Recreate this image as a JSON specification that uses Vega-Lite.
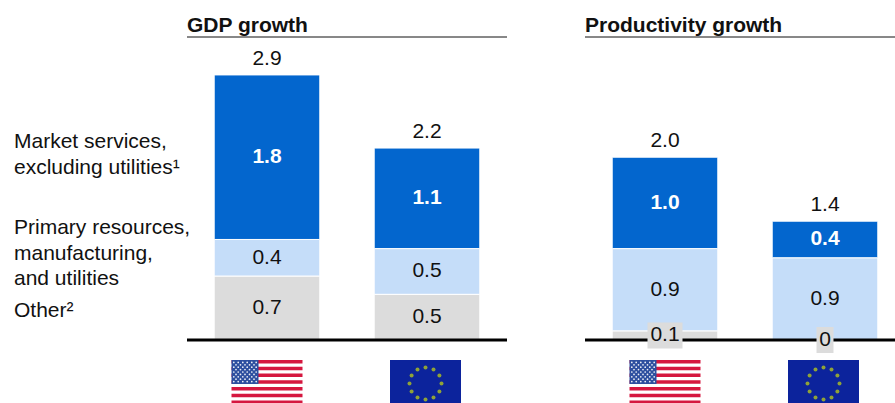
{
  "$schema": "https://vega.github.io/schema/vega-lite/v6.json",
  "padding": {"left": 14, "top": 14, "right": 0, "bottom": 0},
  "bounds": "flush",
  "spacing": 78,
  "config": {
    "view": {"stroke": null},
    "text": {"font": "Liberation Sans", "fontSize": 21, "color": "#111111"},
    "title": {"font": "Liberation Sans", "fontSize": 21, "fontWeight": "bold", "color": "#111111", "anchor": "start", "frame": "group", "offset": 1}
  },
  "datasets": {
    "gdp": [
      {"country": "United States", "series": "Other", "stackRank": 1, "value": 0.7, "total": 2.9},
      {"country": "United States", "series": "Primary", "stackRank": 2, "value": 0.4, "total": 2.9},
      {"country": "United States", "series": "Market", "stackRank": 3, "value": 1.8, "total": 2.9},
      {"country": "European Union", "series": "Other", "stackRank": 1, "value": 0.5, "total": 2.2},
      {"country": "European Union", "series": "Primary", "stackRank": 2, "value": 0.5, "total": 2.2},
      {"country": "European Union", "series": "Market", "stackRank": 3, "value": 1.1, "total": 2.2}
    ],
    "productivity": [
      {"country": "United States", "series": "Other", "stackRank": 1, "value": 0.1, "total": 2.0},
      {"country": "United States", "series": "Primary", "stackRank": 2, "value": 0.9, "total": 2.0},
      {"country": "United States", "series": "Market", "stackRank": 3, "value": 1.0, "total": 2.0},
      {"country": "European Union", "series": "Other", "stackRank": 1, "value": 0, "total": 1.4},
      {"country": "European Union", "series": "Primary", "stackRank": 2, "value": 0.9, "total": 1.4},
      {"country": "European Union", "series": "Market", "stackRank": 3, "value": 0.4, "total": 1.4}
    ],
    "usStripes": [
      {"top": 0, "bottom": 3.4}, {"top": 6.8, "bottom": 10.2}, {"top": 13.5, "bottom": 16.9},
      {"top": 20.3, "bottom": 23.7}, {"top": 27.1, "bottom": 30.5}, {"top": 33.8, "bottom": 37.2},
      {"top": 40.6, "bottom": 44}
    ],
    "usCanton": [{"top": 0, "bottom": 24}],
    "euField": [{"top": 0, "bottom": 44}],
    "usStars": [
      {"fx": -33.2, "fy": 2.4}, {"fx": -28.8, "fy": 2.4}, {"fx": -24.2, "fy": 2.4}, {"fx": -19.8, "fy": 2.4}, {"fx": -15.2, "fy": 2.4}, {"fx": -10.8, "fy": 2.4},
      {"fx": -31, "fy": 4.8}, {"fx": -26.5, "fy": 4.8}, {"fx": -22, "fy": 4.8}, {"fx": -17.5, "fy": 4.8}, {"fx": -13, "fy": 4.8},
      {"fx": -33.2, "fy": 7.2}, {"fx": -28.8, "fy": 7.2}, {"fx": -24.2, "fy": 7.2}, {"fx": -19.8, "fy": 7.2}, {"fx": -15.2, "fy": 7.2}, {"fx": -10.8, "fy": 7.2},
      {"fx": -31, "fy": 9.6}, {"fx": -26.5, "fy": 9.6}, {"fx": -22, "fy": 9.6}, {"fx": -17.5, "fy": 9.6}, {"fx": -13, "fy": 9.6},
      {"fx": -33.2, "fy": 12}, {"fx": -28.8, "fy": 12}, {"fx": -24.2, "fy": 12}, {"fx": -19.8, "fy": 12}, {"fx": -15.2, "fy": 12}, {"fx": -10.8, "fy": 12},
      {"fx": -31, "fy": 14.4}, {"fx": -26.5, "fy": 14.4}, {"fx": -22, "fy": 14.4}, {"fx": -17.5, "fy": 14.4}, {"fx": -13, "fy": 14.4},
      {"fx": -33.2, "fy": 16.8}, {"fx": -28.8, "fy": 16.8}, {"fx": -24.2, "fy": 16.8}, {"fx": -19.8, "fy": 16.8}, {"fx": -15.2, "fy": 16.8}, {"fx": -10.8, "fy": 16.8},
      {"fx": -31, "fy": 19.2}, {"fx": -26.5, "fy": 19.2}, {"fx": -22, "fy": 19.2}, {"fx": -17.5, "fy": 19.2}, {"fx": -13, "fy": 19.2},
      {"fx": -33.2, "fy": 21.6}, {"fx": -28.8, "fy": 21.6}, {"fx": -24.2, "fy": 21.6}, {"fx": -19.8, "fy": 21.6}, {"fx": -15.2, "fy": 21.6}, {"fx": -10.8, "fy": 21.6}
    ],
    "euStars": [
      {"fx": -1.5, "fy": 7.5}, {"fx": 6.5, "fy": 9.6}, {"fx": 12.4, "fy": 15.5}, {"fx": 14.5, "fy": 23.5},
      {"fx": 12.4, "fy": 31.5}, {"fx": 6.5, "fy": 37.4}, {"fx": -1.5, "fy": 39.5}, {"fx": -9.5, "fy": 37.4},
      {"fx": -15.4, "fy": 31.5}, {"fx": -17.5, "fy": 23.5}, {"fx": -15.4, "fy": 15.5}, {"fx": -9.5, "fy": 9.6}
    ],
    "level": [{"header": 3.315, "baseline": 0}]
  },
  "hconcat": [
    {
      "width": 95,
      "height": 366,
      "data": {
        "values": [
          {"series": "Other", "stackRank": 1, "value": 0.7, "text": "Other²"},
          {"series": "Primary", "stackRank": 2, "value": 0.4, "text": "Primary resources,\nmanufacturing,\nand utilities"},
          {"series": "Market", "stackRank": 3, "value": 1.8, "text": "Market services,\nexcluding utilities¹"}
        ]
      },
      "transform": [
        {"stack": "value", "sort": [{"field": "stackRank", "order": "ascending"}], "as": ["y0", "y1"]},
        {"calculate": "(datum.y0 + datum.y1) / 2", "as": "mid"}
      ],
      "encoding": {
        "x": {"datum": 0, "type": "quantitative", "scale": {"domain": [0, 1], "range": [0, 95]}, "axis": null},
        "y": {"field": "mid", "type": "quantitative", "scale": {"domain": [0, 3.315], "range": [303, 0]}, "axis": null},
        "text": {"field": "text"}
      },
      "layer": [
        {
          "transform": [{"filter": "datum.series === 'Other'"}],
          "mark": {"type": "text", "align": "left", "baseline": "middle", "lineBreak": "\n", "lineHeight": 25.5, "dy": 3}
        },
        {
          "transform": [{"filter": "datum.series === 'Primary'"}],
          "mark": {"type": "text", "align": "left", "baseline": "middle", "lineBreak": "\n", "lineHeight": 25.5, "dy": -29.5}
        },
        {
          "transform": [{"filter": "datum.series === 'Market'"}],
          "mark": {"type": "text", "align": "left", "baseline": "middle", "lineBreak": "\n", "lineHeight": 25.5, "dy": -15}
        }
      ]
    },
    {
      "title": "GDP growth",
      "width": 320,
      "height": 366,
      "encoding": {
        "x": {"field": "country", "type": "nominal", "sort": null, "axis": null,
          "scale": {"domain": ["United States", "European Union"], "range": [0, 320], "paddingInner": 0.34, "paddingOuter": 0.17}}
      },
      "resolve": {"scale": {"y": "independent"}},
      "layer": [
        {
          "data": {"name": "gdp"},
          "transform": [
            {"stack": "value", "groupby": ["country"], "sort": [{"field": "stackRank", "order": "ascending"}], "as": ["y0", "y1"]},
            {"calculate": "(datum.y0 + datum.y1) / 2", "as": "mid"},
            {"calculate": "datum.value === 0 ? '0' : format(datum.value, '.1f')", "as": "label"}
          ],
          "encoding": {
            "y": {"field": "mid", "type": "quantitative", "scale": {"domain": [0, 3.315], "range": [303, 0]}, "axis": null}
          },
          "layer": [
            {
              "transform": [{"filter": "datum.value > 0"}],
              "mark": {"type": "rect", "width": 105.6, "stroke": "#ffffff", "strokeWidth": 1},
              "encoding": {
                "y": {"field": "y0", "type": "quantitative", "scale": {"domain": [0, 3.315], "range": [303, 0]}, "axis": null},
                "y2": {"field": "y1"},
                "color": {"field": "series", "type": "nominal", "legend": null,
                  "scale": {"domain": ["Market", "Primary", "Other"], "range": ["#0366ce", "#c5ddf9", "#dcdcdc"]}}
              }
            },
            {
              "data": {"name": "level"},
              "transform": [],
              "mark": {"type": "rule", "color": "#111111", "strokeWidth": 1},
              "encoding": {"x": null, "y": {"field": "header", "type": "quantitative", "scale": {"domain": [0, 3.315], "range": [303, 0]}, "axis": null}}
            },
            {
              "data": {"name": "level"},
              "transform": [],
              "mark": {"type": "rule", "color": "#000000", "strokeWidth": 3},
              "encoding": {"x": null, "y": {"field": "baseline", "type": "quantitative", "scale": {"domain": [0, 3.315], "range": [303, 0]}, "axis": null}}
            },
            {
              "transform": [{"filter": "datum.series === 'Market'"}],
              "mark": {"type": "text", "color": "#ffffff", "fontWeight": "bold", "baseline": "middle"},
              "encoding": {"text": {"field": "label"}}
            },
            {
              "transform": [{"filter": "datum.series !== 'Market'"}],
              "mark": {"type": "text", "baseline": "middle"},
              "encoding": {"text": {"field": "label"}}
            },
            {
              "transform": [
                {"aggregate": [{"op": "sum", "field": "value", "as": "top"}], "groupby": ["country", "total"]}
              ],
              "mark": {"type": "text", "baseline": "middle", "dy": -16},
              "encoding": {
                "y": {"field": "top", "type": "quantitative", "scale": {"domain": [0, 3.315], "range": [303, 0]}, "axis": null},
                "text": {"field": "total", "format": ".1f"}
              }
            }
          ]
        },
        {
          "layer": [
            {
              "data": {"name": "usStripes"},
              "mark": {"type": "rect", "width": 71, "color": "#d5173f", "clip": true},
              "encoding": {
                "x": {"datum": "United States"},
                "y": {"field": "top", "type": "quantitative", "scale": {"domain": [0, 44], "range": [323, 367]}, "axis": null},
                "y2": {"field": "bottom"}
              }
            },
            {
              "data": {"name": "usCanton"},
              "mark": {"type": "rect", "width": 27, "xOffset": -22, "color": "#2d4f9f", "clip": true},
              "encoding": {
                "x": {"datum": "United States"},
                "y": {"field": "top", "type": "quantitative", "scale": {"domain": [0, 44], "range": [323, 367]}, "axis": null},
                "y2": {"field": "bottom"}
              }
            },
            {
              "data": {"name": "usStars"},
              "mark": {"type": "point", "filled": true, "shape": "circle", "size": 3, "color": "#ffffff", "opacity": 0.9},
              "encoding": {
                "x": {"datum": "United States"},
                "xOffset": {"field": "fx", "type": "quantitative", "scale": {"domain": [-36, 36], "range": [16.8, 88.8]}},
                "y": {"field": "fy", "type": "quantitative", "scale": {"domain": [0, 44], "range": [323, 367]}, "axis": null}
              }
            },
            {
              "data": {"name": "euField"},
              "mark": {"type": "rect", "width": 71, "xOffset": -1.5, "color": "#0c239c", "clip": true},
              "encoding": {
                "x": {"datum": "European Union"},
                "y": {"field": "top", "type": "quantitative", "scale": {"domain": [0, 44], "range": [323, 367]}, "axis": null},
                "y2": {"field": "bottom"}
              }
            },
            {
              "data": {"name": "euStars"},
              "mark": {"type": "point", "filled": true, "shape": "circle", "size": 16, "color": "#c8d80e"},
              "encoding": {
                "x": {"datum": "European Union"},
                "xOffset": {"field": "fx", "type": "quantitative", "scale": {"domain": [-36, 36], "range": [16.8, 88.8]}},
                "y": {"field": "fy", "type": "quantitative", "scale": {"domain": [0, 44], "range": [323, 367]}, "axis": null}
              }
            }
          ]
        }
      ]
    },
    {
      "title": "Productivity growth",
      "width": 310,
      "height": 366,
      "encoding": {
        "x": {"field": "country", "type": "nominal", "sort": null, "axis": null,
          "scale": {"domain": ["United States", "European Union"], "range": [0, 320], "paddingInner": 0.34, "paddingOuter": 0.17}}
      },
      "resolve": {"scale": {"y": "independent"}},
      "layer": [
        {
          "data": {"name": "productivity"},
          "transform": [
            {"stack": "value", "groupby": ["country"], "sort": [{"field": "stackRank", "order": "ascending"}], "as": ["y0", "y1"]},
            {"calculate": "(datum.y0 + datum.y1) / 2", "as": "mid"},
            {"calculate": "datum.value === 0 ? '0' : format(datum.value, '.1f')", "as": "label"}
          ],
          "encoding": {
            "y": {"field": "mid", "type": "quantitative", "scale": {"domain": [0, 3.315], "range": [303, 0]}, "axis": null}
          },
          "layer": [
            {
              "transform": [{"filter": "datum.value > 0"}],
              "mark": {"type": "rect", "width": 105.6, "stroke": "#ffffff", "strokeWidth": 1},
              "encoding": {
                "y": {"field": "y0", "type": "quantitative", "scale": {"domain": [0, 3.315], "range": [303, 0]}, "axis": null},
                "y2": {"field": "y1"},
                "color": {"field": "series", "type": "nominal", "legend": null,
                  "scale": {"domain": ["Market", "Primary", "Other"], "range": ["#0366ce", "#c5ddf9", "#dcdcdc"]}}
              }
            },
            {
              "data": {"name": "level"},
              "transform": [],
              "mark": {"type": "rule", "color": "#111111", "strokeWidth": 1},
              "encoding": {"x": null, "y": {"field": "header", "type": "quantitative", "scale": {"domain": [0, 3.315], "range": [303, 0]}, "axis": null}}
            },
            {
              "data": {"name": "level"},
              "transform": [],
              "mark": {"type": "rule", "color": "#000000", "strokeWidth": 3},
              "encoding": {"x": null, "y": {"field": "baseline", "type": "quantitative", "scale": {"domain": [0, 3.315], "range": [303, 0]}, "axis": null}}
            },
            {
              "transform": [{"filter": "datum.value === 0.1"}],
              "mark": {"type": "rect", "width": 35, "height": 26, "color": "#dcdcdc"}
            },
            {
              "transform": [{"filter": "datum.value === 0"}],
              "mark": {"type": "rect", "width": 17, "height": 26, "color": "#dcdcdc"}
            },
            {
              "transform": [{"filter": "datum.series === 'Market'"}],
              "mark": {"type": "text", "color": "#ffffff", "fontWeight": "bold", "baseline": "middle"},
              "encoding": {"text": {"field": "label"}}
            },
            {
              "transform": [{"filter": "datum.series !== 'Market'"}],
              "mark": {"type": "text", "baseline": "middle"},
              "encoding": {"text": {"field": "label"}}
            },
            {
              "transform": [
                {"aggregate": [{"op": "sum", "field": "value", "as": "top"}], "groupby": ["country", "total"]}
              ],
              "mark": {"type": "text", "baseline": "middle", "dy": -16},
              "encoding": {
                "y": {"field": "top", "type": "quantitative", "scale": {"domain": [0, 3.315], "range": [303, 0]}, "axis": null},
                "text": {"field": "total", "format": ".1f"}
              }
            }
          ]
        },
        {
          "layer": [
            {
              "data": {"name": "usStripes"},
              "mark": {"type": "rect", "width": 71, "color": "#d5173f", "clip": true},
              "encoding": {
                "x": {"datum": "United States"},
                "y": {"field": "top", "type": "quantitative", "scale": {"domain": [0, 44], "range": [323, 367]}, "axis": null},
                "y2": {"field": "bottom"}
              }
            },
            {
              "data": {"name": "usCanton"},
              "mark": {"type": "rect", "width": 27, "xOffset": -22, "color": "#2d4f9f", "clip": true},
              "encoding": {
                "x": {"datum": "United States"},
                "y": {"field": "top", "type": "quantitative", "scale": {"domain": [0, 44], "range": [323, 367]}, "axis": null},
                "y2": {"field": "bottom"}
              }
            },
            {
              "data": {"name": "usStars"},
              "mark": {"type": "point", "filled": true, "shape": "circle", "size": 3, "color": "#ffffff", "opacity": 0.9},
              "encoding": {
                "x": {"datum": "United States"},
                "xOffset": {"field": "fx", "type": "quantitative", "scale": {"domain": [-36, 36], "range": [16.8, 88.8]}},
                "y": {"field": "fy", "type": "quantitative", "scale": {"domain": [0, 44], "range": [323, 367]}, "axis": null}
              }
            },
            {
              "data": {"name": "euField"},
              "mark": {"type": "rect", "width": 71, "xOffset": -1.5, "color": "#0c239c", "clip": true},
              "encoding": {
                "x": {"datum": "European Union"},
                "y": {"field": "top", "type": "quantitative", "scale": {"domain": [0, 44], "range": [323, 367]}, "axis": null},
                "y2": {"field": "bottom"}
              }
            },
            {
              "data": {"name": "euStars"},
              "mark": {"type": "point", "filled": true, "shape": "circle", "size": 16, "color": "#c8d80e"},
              "encoding": {
                "x": {"datum": "European Union"},
                "xOffset": {"field": "fx", "type": "quantitative", "scale": {"domain": [-36, 36], "range": [16.8, 88.8]}},
                "y": {"field": "fy", "type": "quantitative", "scale": {"domain": [0, 44], "range": [323, 367]}, "axis": null}
              }
            }
          ]
        }
      ]
    }
  ]
}
